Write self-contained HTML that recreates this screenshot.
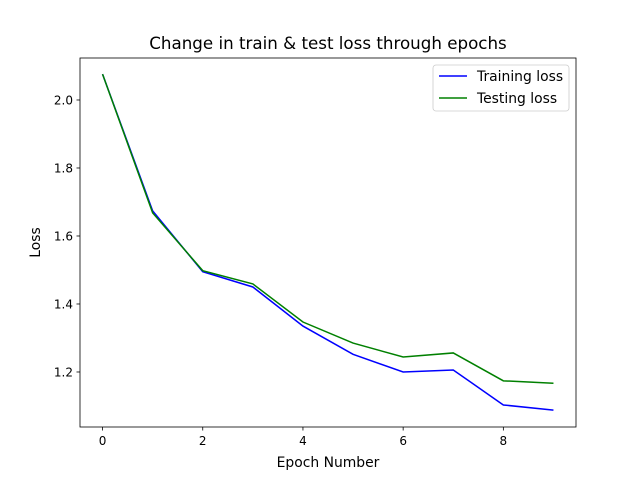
<!DOCTYPE html>
<html><head><meta charset="utf-8"><style>
body{margin:0;background:#fff}
svg text{font-family:"DejaVu Sans","Liberation Sans",sans-serif;fill:#000}
</style></head><body>
<svg id="chart" width="640" height="480">
<rect width="640" height="480" fill="#fff"/>
<text x="328" y="49" font-size="16.7" text-anchor="middle">Change in train &amp; test loss through epochs</text>
<g id="xt"></g><g id="yt"></g><g id="lines"></g>
<rect x="80" y="58" width="496" height="369" fill="none" stroke="#000" stroke-width="0.8"/>
<text x="328" y="467" font-size="13.9" text-anchor="middle">Epoch Number</text>
<text transform="translate(40,242.5) rotate(-90)" font-size="13.9" text-anchor="middle">Loss</text>
<g>
<rect x="433" y="65" width="136" height="46" rx="3" fill="#fff" stroke="#ccc" stroke-width="0.8"/>
<line x1="439" y1="76" x2="467" y2="76" stroke="#0000ff" stroke-width="1.5"/>
<text x="477" y="81" font-size="13.9">Training loss</text>
<line x1="439" y1="98" x2="467" y2="98" stroke="#008000" stroke-width="1.5"/>
<text x="477" y="103" font-size="13.9">Testing loss</text>
</g>
</svg>
<script>
const epochs=[0,1,2,3,4,5,6,7,8,9];
const trainLoss=[2.076,1.674,1.495,1.450,1.335,1.252,1.200,1.206,1.103,1.088];
const testLoss=[2.076,1.668,1.498,1.459,1.347,1.285,1.244,1.256,1.174,1.167];
const xTicks=[0,2,4,6,8];
const yTicks=[1.2,1.4,1.6,1.8,2.0];
const NS="http://www.w3.org/2000/svg";
const X0=80,X1=576,Y0=427,Y1=58,xmin=-0.45,xmax=9.45,ymin=1.0382,ymax=2.1235;
const sx=v=>X0+(v-xmin)/(xmax-xmin)*(X1-X0);
const sy=v=>Y0-(v-ymin)/(ymax-ymin)*(Y0-Y1);
function mk(t,a,p){const e=document.createElementNS(NS,t);for(const k in a)e.setAttribute(k,a[k]);p.appendChild(e);return e;}
const xt=document.getElementById('xt'),yt=document.getElementById('yt'),lg=document.getElementById('lines');
xTicks.forEach(v=>{
 const l=mk('line',{x1:sx(v),x2:sx(v),y1:Y0,y2:Y0+3.5,stroke:'#000','stroke-width':0.8},xt);
 
 
 const t=mk('text',{x:sx(v),y:Y0+18,'font-size':12,'text-anchor':'middle'},xt);t.textContent=v;
 
 
});
yTicks.forEach(v=>{
 const l=mk('line',{x1:X0-3.5,x2:X0,y1:sy(v),y2:sy(v),stroke:'#000','stroke-width':0.8},yt);
 
 
 const t=mk('text',{x:X0-7,y:sy(v)+4.5,'font-size':12,'text-anchor':'end'},yt);t.textContent=v.toFixed(1);
 
 
});
function series(vals,color,name){
 const p=mk('polyline',{points:epochs.map((e,i)=>sx(e)+','+sy(vals[i])).join(' '),fill:'none',stroke:color,'stroke-width':1.5},lg);
 
 
}
series(trainLoss,'#0000ff','training-loss-line');
series(testLoss,'#008000','testing-loss-line');
</script>
</body></html>
